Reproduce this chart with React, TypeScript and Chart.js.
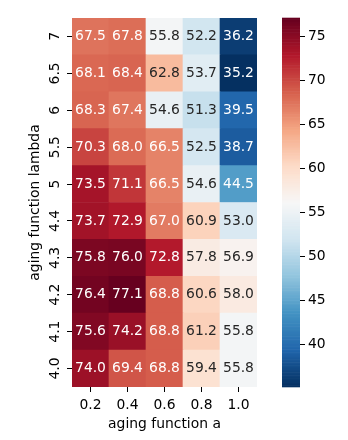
import React, { useEffect, useRef } from 'react';
import { Chart, registerables } from 'chart.js';

Chart.register(...registerables);

// ---- data ----
const colLabels = ['0.2', '0.4', '0.6', '0.8', '1.0'];
const rowLabels = ['7', '6.5', '6', '5.5', '5', '4.4', '4.3', '4.2', '4.1', '4.0'];

const row7 = [67.5, 67.8, 55.8, 52.2, 36.2];
const row6_5 = [68.1, 68.4, 62.8, 53.7, 35.2];
const row6 = [68.3, 67.4, 54.6, 51.3, 39.5];
const row5_5 = [70.3, 68.0, 66.5, 52.5, 38.7];
const row5 = [73.5, 71.1, 66.5, 54.6, 44.5];
const row4_4 = [73.7, 72.9, 67.0, 60.9, 53.0];
const row4_3 = [75.8, 76.0, 72.8, 57.8, 56.9];
const row4_2 = [76.4, 77.1, 68.8, 60.6, 58.0];
const row4_1 = [75.6, 74.2, 68.8, 61.2, 55.8];
const row4_0 = [74.0, 69.4, 68.8, 59.4, 55.8];

const values = [row7, row6_5, row6, row5_5, row5, row4_4, row4_3, row4_2, row4_1, row4_0];
const cbTicks = [40, 45, 50, 55, 60, 65, 70, 75];

// ---- colormap (RdBu_r) ----
const STOPS = ['#053061', '#2166ac', '#4393c3', '#92c5de', '#d1e5f0', '#f7f7f7', '#fddbc7', '#f4a582', '#d6604d', '#b2182b', '#67001f'];
const stopRGB = STOPS.map((h) => [1, 3, 5].map((k) => parseInt(h.slice(k, k + 2), 16) / 255));
const LUT: number[][] = [];
for (let i = 0; i < 256; i++) {
  const pos = (i / 255) * (STOPS.length - 1);
  const k = Math.min(Math.floor(pos), STOPS.length - 2);
  const f = pos - k;
  LUT.push([0, 1, 2].map((c) => stopRGB[k][c] * (1 - f) + stopRGB[k + 1][c] * f));
}
const allVals = values.flat();
const vmin = Math.min(...allVals);
const vmax = Math.max(...allVals);
function lutIndex(v: number) {
  const n = (v - vmin) / (vmax - vmin);
  let i = Math.floor(n * 256);
  if (i >= 256) i = 255;
  if (i < 0) i = 0;
  return i;
}
const css = (c: number[]) => `rgb(${Math.round(c[0] * 255)},${Math.round(c[1] * 255)},${Math.round(c[2] * 255)})`;
const colorFor = (v: number) => css(LUT[lutIndex(v)]);
function textColorFor(v: number) {
  const c = LUT[lutIndex(v)].map((x) => (x <= 0.03928 ? x / 12.92 : Math.pow((x + 0.055) / 1.055, 2.4)));
  const lum = 0.2126 * c[0] + 0.7152 * c[1] + 0.0722 * c[2];
  return lum > 0.408 ? '#262626' : '#ffffff';
}

const FONT = { family: 'DejaVu Sans', size: 13.89 };

const annotatePlugin = {
  id: 'annotate',
  afterDatasetsDraw(chart: any) {
    const ctx = chart.ctx;
    ctx.save();
    ctx.font = `${FONT.size}px "${FONT.family}"`;
    ctx.textAlign = 'center';
    ctx.textBaseline = 'middle';
    const n = values.length;
    for (let d = 0; d < n; d++) {
      const meta = chart.getDatasetMeta(d);
      const row = values[n - 1 - d];
      meta.data.forEach((bar: any, j: number) => {
        const p = bar.getProps(['x', 'y', 'base'], true);
        const v = row[j];
        ctx.fillStyle = textColorFor(v);
        ctx.fillText(v.toFixed(1), p.x, (p.y + p.base) / 2);
      });
    }
    ctx.restore();
  },
};

const colorbarPlugin = {
  id: 'colorbar',
  afterDraw(chart: any) {
    const s = chart.scales.cb;
    if (!s) return;
    const ctx = chart.ctx;
    const x1 = s.left;
    const x0 = x1 - 18;
    ctx.save();
    for (let i = 0; i < 256; i++) {
      const a = vmin + (i / 256) * (vmax - vmin);
      const b = vmin + ((i + 1) / 256) * (vmax - vmin);
      const yTop = s.getPixelForValue(b);
      const yBot = s.getPixelForValue(a);
      ctx.fillStyle = css(LUT[i]);
      ctx.fillRect(x0, yTop - 0.3, x1 - x0, yBot - yTop + 0.6);
    }
    ctx.restore();
  },
};

export default function App() {
  const ref = useRef<HTMLCanvasElement | null>(null);
  useEffect(() => {
    document.body.style.margin = '0';
    const canvas = ref.current;
    if (!canvas) return;
    const n = values.length;
    const datasets = [];
    for (let d = 0; d < n; d++) {
      const row = values[n - 1 - d];
      datasets.push({
        label: rowLabels[n - 1 - d],
        data: row.map(() => 1),
        backgroundColor: row.map(colorFor),
        borderWidth: 0,
        barPercentage: 1,
        categoryPercentage: 1,
      });
    }
    const chart = new Chart(canvas, {
      type: 'bar',
      data: { labels: colLabels, datasets },
      plugins: [annotatePlugin, colorbarPlugin],
      options: {
        animation: false,
        responsive: false,
        devicePixelRatio: 1,
        layout: { padding: { top: 18, left: 0, right: 0, bottom: 0 } },
        plugins: { legend: { display: false }, tooltip: { enabled: false } },
        scales: {
          x: {
            type: 'category',
            stacked: true,
            offset: true,
            grid: { display: true, drawOnChartArea: false, drawTicks: true, tickLength: 5, offset: false, color: '#000', lineWidth: 1 },
            border: { display: false },
            ticks: { color: '#000', font: FONT, padding: 5, minRotation: 0, maxRotation: 0, autoSkip: false },
            title: { display: true, text: 'aging function a', color: '#000', font: FONT, padding: { top: 0, bottom: 7.5 } },
            afterFit: (s: any) => { s.height = 53; },
          },
          y: {
            type: 'linear',
            position: 'left',
            stacked: true,
            min: 0,
            max: 10,
            afterBuildTicks: (s: any) => { s.ticks = rowLabels.map((_, i) => ({ value: i + 0.5 })); },
            grid: { display: true, drawOnChartArea: false, drawTicks: true, tickLength: 5, color: '#000', lineWidth: 1 },
            border: { display: false },
            ticks: {
              color: '#000', font: FONT, padding: 1, minRotation: 90, maxRotation: 90, crossAlign: 'center',
              callback: (v: any) => rowLabels[n - 1 - Math.floor(Number(v))],
            },
            title: { display: true, text: 'aging function lambda', color: '#000', font: FONT, padding: { top: 27, bottom: 0 } },
            afterFit: (s: any) => { s.width = 72; },
          },
          gap: {
            axis: 'y', type: 'linear', position: 'right', weight: 0, display: true,
            grid: { display: false }, ticks: { display: false }, border: { display: false },
            afterFit: (s: any) => { s.width = 43; },
          },
          cb: {
            axis: 'y', type: 'linear', position: 'right', weight: 1, min: vmin, max: vmax,
            afterBuildTicks: (s: any) => { s.ticks = cbTicks.map((v) => ({ value: v })); },
            grid: { display: true, drawOnChartArea: false, drawTicks: true, tickLength: 5, color: '#000', lineWidth: 1 },
            border: { display: false },
            ticks: { color: '#000', font: FONT, padding: 3, callback: (v: any) => String(v) },
            afterFit: (s: any) => { s.width = 48; },
          },
        } as any,
      },
    } as any);
    return () => chart.destroy();
  }, []);
  return (
    <div style={{ width: 348, height: 440 }}>
      <canvas ref={ref} width={348} height={440} style={{ display: 'block', width: 348, height: 440 }} />
    </div>
  );
}
